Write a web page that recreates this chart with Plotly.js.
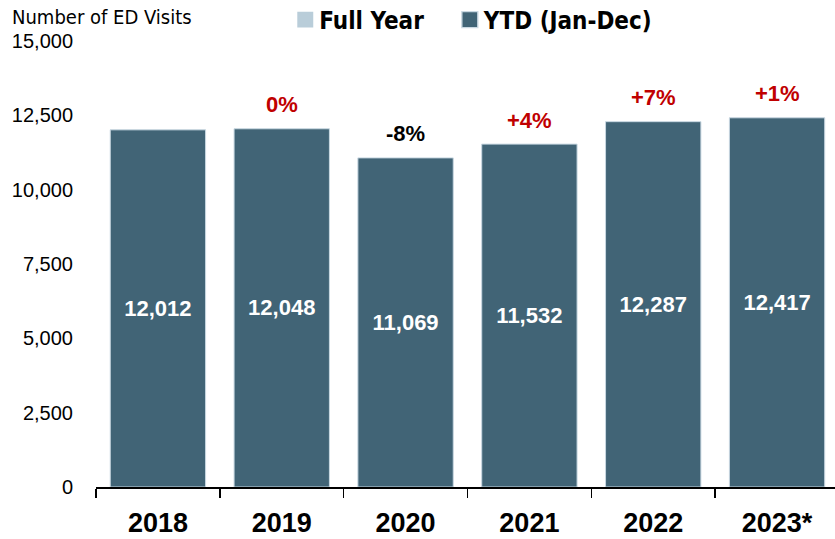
<!DOCTYPE html>
<html>
<head>
<meta charset="utf-8">
<script src="https://cdn.plot.ly/plotly-3.0.1.min.js"></script>
<style>
  html, body { margin: 0; padding: 0; background: #fff; }
  #chart { width: 835px; height: 539px; }
</style>
</head>
<body>
<div id="chart"></div>
<script>
// data
var years = ["2018", "2019", "2020", "2021", "2022", "2023*"];
var ytdVisits = [12012, 12048, 11069, 11532, 12287, 12417];
var pctLabels = ["", "0%", "-8%", "+4%", "+7%", "+1%"];
var pctColors = ["#c00000", "#c00000", "#000000", "#c00000", "#c00000", "#c00000"];

var narrow = "DejaVu Sans Condensed, Liberation Sans Narrow, sans-serif";
var wide = "Liberation Sans, Arial, sans-serif";

var fullYear = {
  x: years,
  y: years.map(function () { return null; }),
  type: "bar",
  name: "Full Year\u00a0\u00a0",
  marker: { color: "#b9cdd9" },
  hoverinfo: "skip"
};

var ytd = {
  x: years,
  y: ytdVisits,
  type: "bar",
  name: "YTD (Jan-Dec)",
  width: 0.77,
  marker: { color: "#416476", line: { color: "#c9d8e2", width: 1 } },
  text: ytdVisits.map(function (v) { return v.toLocaleString("en-US"); }),
  textposition: "inside",
  insidetextanchor: "middle",
  textfont: { family: wide, size: 22, color: "#ffffff", weight: "bold" },
  hoverinfo: "x+y"
};

// percent change labels above bars (x by index: "2018" would be read as a number)
var notes = [];
years.forEach(function (yr, i) {
  if (!pctLabels[i]) return;
  notes.push({
    x: i, y: ytdVisits[i], xref: "x", yref: "y",
    text: pctLabels[i], showarrow: false,
    yshift: 24, yanchor: "middle",
    font: { family: wide, size: 22, color: pctColors[i], weight: "bold" }
  });
});

// y axis title, horizontal at top left
notes.push({
  xref: "paper", yref: "paper", x: -0.116, y: 1.054,
  xanchor: "left", yanchor: "middle", showarrow: false,
  text: "Number of ED Visits",
  font: { family: narrow, size: 20, color: "#000000" }
});

var layout = {
  width: 835,
  height: 539,
  margin: { l: 96, r: 0, t: 41, b: 52, autoexpand: false },
  paper_bgcolor: "#ffffff",
  plot_bgcolor: "#ffffff",
  barmode: "overlay",
  showlegend: true,
  legend: {
    orientation: "h",
    x: 0.248, y: 1.047, xanchor: "left", yanchor: "middle",
    font: { family: narrow, size: 24, color: "#000000", weight: "bold" },
    traceorder: "normal"
  },
  xaxis: {
    type: "category",
    range: [-0.5, 5.468],
    showline: true,
    linecolor: "#000000",
    linewidth: 1.5,
    ticks: "outside",
    tickson: "boundaries",
    ticklen: 9,
    tickcolor: "#000000",
    tickwidth: 1.5,
    ticklabelstandoff: 11,
    showgrid: false,
    tickfont: { family: wide, size: 27, color: "#000000", weight: "bold" }
  },
  yaxis: {
    range: [0, 15000],
    dtick: 2500,
    tickformat: ",d",
    showgrid: false,
    zeroline: false,
    showline: false,
    ticks: "",
    ticklabelstandoff: 22,
    tickfont: { family: wide, size: 20, color: "#000000" }
  },
  annotations: notes
};

Plotly.newPlot("chart", [fullYear, ytd], layout, { displayModeBar: false, staticPlot: true })
  .then(function (gd) {
    // bigger legend squares, closer to their text
    gd.querySelectorAll(".legendpoints path").forEach(function (p) {
      p.setAttribute("transform", "translate(26,0) scale(1.33)");
    });
  });
</script>
</body>
</html>
